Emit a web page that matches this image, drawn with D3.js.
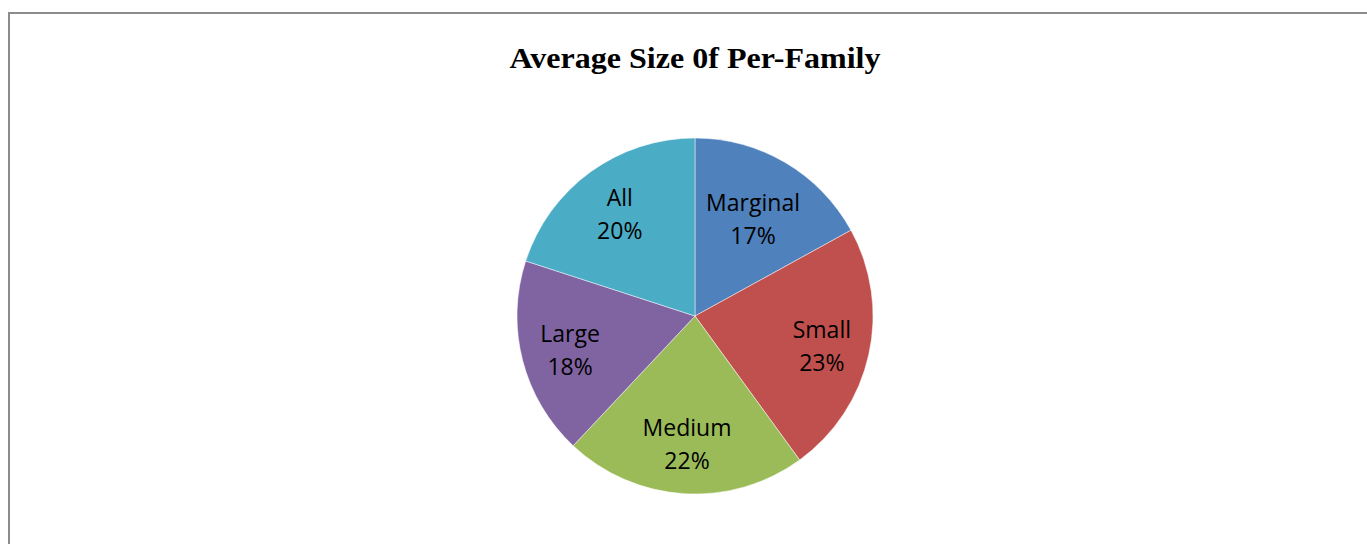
<!DOCTYPE html>
<html>
<head>
<meta charset="utf-8">
<script src="https://cdn.jsdelivr.net/npm/d3@7"></script>
<style>
  html, body { margin: 0; padding: 0; background: #fff; }
  svg { display: block; }
</style>
</head>
<body>
<div id="chart"></div>
<script>
const categories = ['Marginal', 'Small', 'Medium', 'Large', 'All'];
const shares = [17, 23, 22, 18, 20];
const colors = ['#4f81bd', '#c0504d', '#9bbb59', '#8064a2', '#4bacc6'];
const title = 'Average Size 0f Per-Family';

const width = 1367;
const height = 544;
const cx = 695;
const cy = 316;
const radius = 178;

const svg = d3
  .select('#chart')
  .append('svg')
  .attr('width', width)
  .attr('height', height);

// chart area border (runs off right and bottom edges)
svg
  .append('rect')
  .attr('x', 9)
  .attr('y', 13)
  .attr('width', width + 20)
  .attr('height', height + 20)
  .attr('fill', '#fff')
  .attr('stroke', '#8c8c8c')
  .attr('stroke-width', 2);

svg
  .append('text')
  .attr('x', cx)
  .attr('y', 68)
  .attr('text-anchor', 'middle')
  .attr('font-family', '"Liberation Serif", "Times New Roman", serif')
  .attr('font-weight', 'bold')
  .attr('font-size', 29)
  .attr('textLength', 371)
  .attr('lengthAdjust', 'spacingAndGlyphs')
  .attr('fill', '#000')
  .text(title);

let data = categories.map((name, i) => ({ name, value: shares[i], color: colors[i] }));

const pie = d3.pie().sort(null).value((d) => d.value);
const arc = d3.arc().innerRadius(0).outerRadius(radius);
const arcs = pie(data);

const g = svg.append('g').attr('transform', `translate(${cx}, ${cy})`);

g.selectAll('path')
  .data(arcs)
  .join('path')
  .attr('d', arc)
  .attr('fill', (d) => d.data.color)
  .attr('stroke', '#fff')
  .attr('stroke-opacity', 0.6)
  .attr('stroke-width', 0.8);

// best-fit inside labels: start at a fixed radius, pull inward until the box fits
const fontSize = 23;
const lineGap = 33;

const labels = g
  .selectAll('g.label')
  .data(arcs)
  .join('g')
  .attr('class', 'label');

labels.each(function (d) {
  const lg = d3.select(this);
  const t1 = lg
    .append('text')
    .attr('text-anchor', 'middle')
    .attr('font-family', '"Open Sans", "Noto Sans", sans-serif')
    .attr('font-size', fontSize)
    .attr('fill', '#000')
    .attr('y', -lineGap / 2 + 10)
    .text(d.data.name);
  const t2 = lg
    .append('text')
    .attr('text-anchor', 'middle')
    .attr('font-family', '"Open Sans", "Noto Sans", sans-serif')
    .attr('font-size', fontSize)
    .attr('fill', '#000')
    .attr('y', lineGap / 2 + 10)
    .text(`${d.data.value}%`);

  const w = Math.max(t1.node().getComputedTextLength(), t2.node().getComputedTextLength()) / 2;
  const h = 32;
  const mid = (d.startAngle + d.endAngle) / 2;
  const limit = radius - 10;

  let r = 132;
  for (; r > 40; r -= 1) {
    const x = r * Math.sin(mid);
    const y = -r * Math.cos(mid);
    const corners = [
      [x - w, y - h],
      [x + w, y - h],
      [x - w, y + h],
      [x + w, y + h],
    ];
    if (corners.every(([a, b]) => Math.hypot(a, b) <= limit)) break;
  }
  lg.attr('transform', `translate(${r * Math.sin(mid)}, ${-r * Math.cos(mid)})`);
});
</script>
</body>
</html>
